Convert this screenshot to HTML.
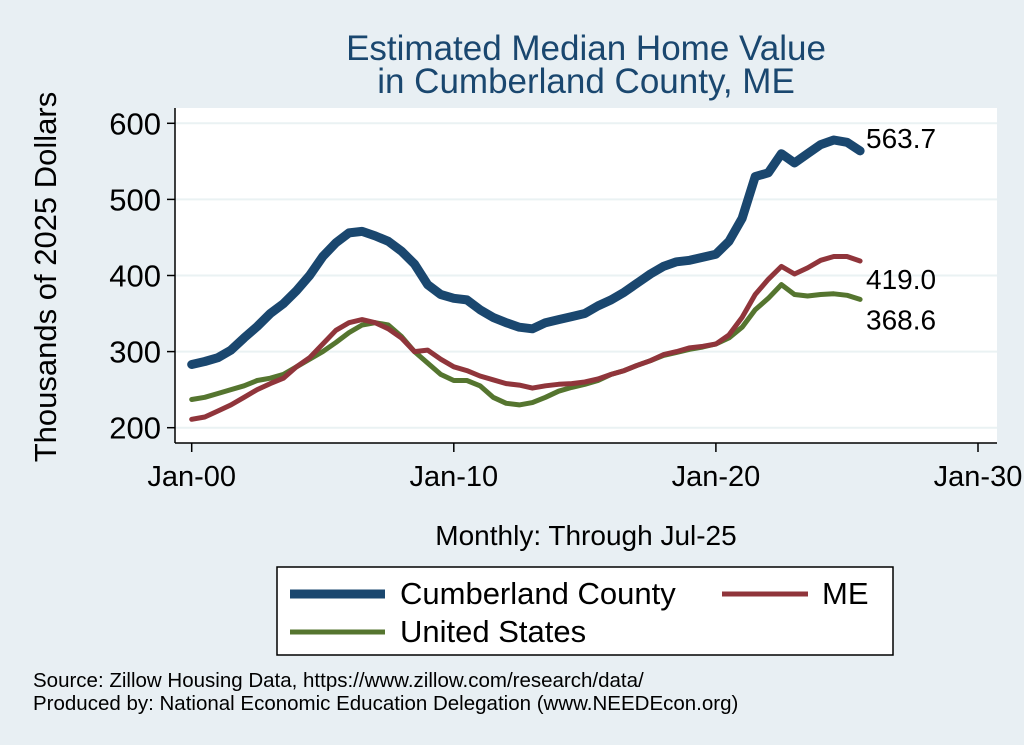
<!DOCTYPE html>
<html><head><meta charset="utf-8"><style>
body{margin:0;background:#e8eff3;}
svg{display:block;font-family:"Liberation Sans",sans-serif;}
</style></head><body>
<svg id="chart" width="1024" height="745">
<rect x="0" y="0" width="1024" height="745" fill="#e8eff3"/>
<rect x="175" y="108" width="822" height="335" fill="#ffffff"/>
<text x="586" y="60" text-anchor="middle" font-size="35" fill="#1a476f">Estimated Median Home Value</text>
<text x="586" y="93" text-anchor="middle" font-size="35" fill="#1a476f">in Cumberland County, ME</text>
<text transform="translate(56,277) rotate(-90)" text-anchor="middle" font-size="31" fill="#000">Thousands of 2025 Dollars</text>
<text x="586" y="545" text-anchor="middle" font-size="28" fill="#000">Monthly: Through Jul-25</text>
<g id="grid"></g><g id="axes"></g><g id="series"></g><g id="labels"></g>
<g>
<rect x="277" y="567" width="616" height="88" fill="#fff" stroke="#000" stroke-width="1.5"/>
<line x1="290" y1="594" x2="385" y2="594" stroke="#1a476f" stroke-width="9"/>
<text x="400" y="604" font-size="31">Cumberland County</text>
<line x1="722" y1="594" x2="808" y2="594" stroke="#90353b" stroke-width="5"/>
<text x="822" y="604" font-size="31">ME</text>
<line x1="290" y1="632" x2="385" y2="632" stroke="#55752f" stroke-width="5"/>
<text x="400" y="642" font-size="31">United States</text>
</g>
<text x="33" y="687" font-size="20.5">Source: Zillow Housing Data, https://www.zillow.com/research/data/</text>
<text x="33" y="710" font-size="20.5">Produced by: National Economic Education Delegation (www.NEEDEcon.org)</text>
</svg>
<script>
const yTicks=[200,300,400,500,600];
const xTickYears=[0,10,20,30];
const xTickLabels=["Jan-00","Jan-10","Jan-20","Jan-30"];
const cumberland=[283,287,292,302,318,333,350,363,380,400,425,443,456,458,452,445,432,415,388,375,370,368,355,345,338,332,330,338,342,346,350,360,368,378,390,402,412,418,420,424,428,445,475,530,535,560,548,560,572,578,575,563.7];
const maine=[211,214,222,230,240,250,258,265,280,292,310,328,338,342,338,330,318,300,302,290,280,275,268,263,258,256,252,255,257,258,260,264,270,275,282,288,296,300,305,307,310,322,345,375,395,412,402,410,420,425,425,419.0];
const us=[237,240,245,250,255,262,265,270,280,290,300,312,325,335,338,335,320,300,285,270,262,262,255,240,232,230,233,240,248,253,257,262,270,275,282,288,295,299,303,306,310,318,332,355,370,388,375,373,375,376,374,368.6];
const NS='http://www.w3.org/2000/svg';
function X(yr){return 191.7+yr*(978-191.7)/30;}
function Y(v){return 427.7-(v-200)*(427.7-123.3)/400;}
function mk(tag,attrs,parent){const e=document.createElementNS(NS,tag);for(const k in attrs)e.setAttribute(k,attrs[k]);document.getElementById(parent).appendChild(e);return e;}
yTicks.forEach(v=>{
 let g=mk('line',{x1:175,x2:997,y1:Y(v),y2:Y(v),stroke:'#eaf2f3','stroke-width':2},'grid');
 
 
 let t=mk('line',{x1:167,x2:175,y1:Y(v),y2:Y(v),stroke:'#000','stroke-width':1.5},'axes');
 
 
 let l=mk('text',{x:161,y:Y(v)+11,'text-anchor':'end','font-size':31},'axes');l.textContent=v;
 
 
});
xTickYears.forEach((yr,i)=>{
 let t=mk('line',{x1:X(yr),x2:X(yr),y1:443,y2:452,stroke:'#000','stroke-width':1.5},'axes');
 
 
 let l=mk('text',{x:X(yr),y:486,'text-anchor':'middle','font-size':29},'axes');l.textContent=xTickLabels[i];
 
 
});
let ya=mk('line',{x1:175,x2:175,y1:108,y2:443,stroke:'#000','stroke-width':1.5},'axes');


let xa=mk('line',{x1:175,x2:997,y1:443,y2:443,stroke:'#000','stroke-width':1.5},'axes');


function series(arr,color,w,name){
 const d=arr.map((v,i)=>(i?'L':'M')+X(i*0.5).toFixed(1)+','+Y(v).toFixed(1)).join(' ');
 let p=mk('path',{d:d,fill:'none',stroke:color,'stroke-width':w,'stroke-linejoin':'round','stroke-linecap':'round'},'series');
 
 
}
series(us,'#55752f',5,'us-line');
series(maine,'#90353b',5,'me-line');
series(cumberland,'#1a476f',9,'cumberland-line');
const ends=[[cumberland,'cumberland',-13],[maine,'me',18],[us,'us',20]];
ends.forEach(([a,n,off])=>{
 const v=a[a.length-1];
 let l=mk('text',{x:866,y:Y(v)+10+off,'font-size':28},'labels');l.textContent=v.toFixed(1);
 
 
});
</script>
</body></html>
